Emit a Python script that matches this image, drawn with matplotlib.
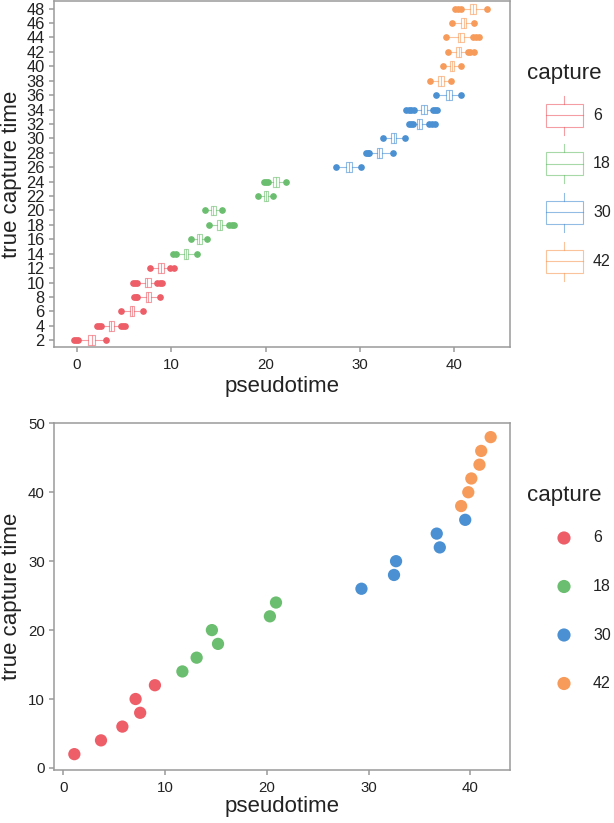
import matplotlib.pyplot as plt
from matplotlib.patches import Rectangle

plt.rcParams['font.family'] = ['Liberation Sans', 'DejaVu Sans']

# ---- data ----
captures = [6, 18, 30, 42]
capture_colors = ['#ED5E68', '#6BBE6F', '#4A90D2', '#F79B5A']

true_time = [2, 4, 6, 8, 10, 12, 14, 16, 18, 20, 22, 24,
             26, 28, 30, 32, 34, 36, 38, 40, 42, 44, 46, 48]
time_capture = [6, 6, 6, 6, 6, 6, 18, 18, 18, 18, 18, 18,
                30, 30, 30, 30, 30, 30, 42, 42, 42, 42, 42, 42]

# boxplot summaries of pseudotime per true capture time
box_med = [1.55, 3.6, 5.8, 7.55, 7.4, 8.9, 11.5, 12.9, 15.1, 14.4, 20.0, 21.1,
           28.8, 32.05, 33.6, 36.3, 36.8, 39.4, 38.6, 39.7, 40.5, 40.65, 41.0, 42.0]
box_q1 = [1.2, 3.4, 5.6, 7.3, 7.2, 8.6, 11.3, 12.7, 14.8, 14.2, 19.8, 20.8,
          28.5, 31.8, 33.3, 36.05, 36.5, 39.1, 38.3, 39.5, 40.2, 40.4, 40.7, 41.7]
box_q3 = [1.95, 3.95, 6.0, 7.8, 7.8, 9.2, 11.8, 13.2, 15.4, 14.7, 20.2, 21.4,
          29.1, 32.3, 33.8, 36.6, 37.05, 39.7, 38.9, 40.0, 40.75, 40.97, 41.25, 42.3]
whisk_lo = [0.3, 2.7, 5.0, 6.6, 6.5, 8.0, 10.6, 12.3, 14.2, 13.8, 19.4, 20.3,
            27.8, 31.0, 32.7, 35.7, 35.9, 38.4, 37.6, 39.0, 39.6, 39.4, 40.0, 40.9]
whisk_hi = [2.8, 4.5, 6.6, 8.6, 8.4, 9.7, 12.4, 13.6, 16.0, 15.2, 20.6, 22.0,
            29.8, 33.2, 34.5, 37.2, 37.6, 40.4, 39.4, 40.5, 41.2, 41.8, 41.9, 43.3]
fliers = [[-0.3, -0.1, 0.05, 3.1], [2.1, 2.3, 2.5, 4.7, 4.9, 5.1], [4.7, 7.0],
          [6.0, 6.2, 6.4, 8.8], [5.9, 6.1, 6.3, 8.5, 8.8, 9.05], [7.7, 9.9, 10.3],
          [10.2, 10.5, 12.7], [12.1, 13.8], [14.0, 16.1, 16.4, 16.6], [13.6, 15.4],
          [19.2, 20.8], [19.8, 20.0, 20.2, 22.2],
          [27.5, 30.1], [30.6, 30.8, 30.9, 33.5], [32.4, 34.8],
          [35.2, 35.4, 35.6, 37.3, 37.6, 37.9], [34.9, 35.2, 35.4, 35.7, 37.7, 38.0, 38.2],
          [38.1, 40.7],
          [37.4, 39.6], [38.8, 40.7], [39.3, 41.4, 41.7, 42.1],
          [39.1, 41.95, 42.3, 42.66], [39.8, 42.1], [40.1, 40.4, 40.7, 43.5]]

# mean pseudotime per true capture time (bottom panel)
pt_x = [1.08, 3.7, 5.8, 7.55, 7.1, 9.0, 11.7, 13.1, 15.2, 14.6, 20.3, 20.9,
        29.3, 32.5, 32.7, 37.0, 36.7, 39.5, 39.1, 39.8, 40.1, 40.9, 41.07, 42.0]

W, H = 614, 823
fig = plt.figure(figsize=(W / 100, H / 100), dpi=100)
fig.patch.set_facecolor('white')

spine_col = '#9a9a9a'
text_col = '#222222'


def px_axes(x0, y0, x1, y1):
    # axes from pixel box (top-left origin)
    return fig.add_axes([x0 / W, 1 - y1 / H, (x1 - x0) / W, (y1 - y0) / H])


def style(ax, ysize):
    for s in ax.spines.values():
        s.set_color(spine_col)
        s.set_linewidth(1.1)
    ax.tick_params(colors=spine_col, labelcolor=text_col, length=3.6, width=1.1)
    ax.tick_params(axis='x', pad=4, labelsize=10.8)
    ax.tick_params(axis='y', pad=3, labelsize=ysize)


col_of = dict(zip(captures, capture_colors))

# ---- top: boxplots ----
ax1 = px_axes(54, 1, 510, 347)
for i in range(len(true_time)):
    c = col_of[time_capture[i]]
    st = dict(med=box_med[i], q1=box_q1[i], q3=box_q3[i],
              whislo=whisk_lo[i], whishi=whisk_hi[i], fliers=fliers[i])
    ax1.bxp([st], positions=[i], widths=0.68, orientation='horizontal',
            showcaps=False,
            boxprops=dict(color=c, alpha=0.6, linewidth=0.8),
            medianprops=dict(color=c, alpha=0.6, linewidth=0.8),
            whiskerprops=dict(color=c, alpha=0.6, linewidth=0.8),
            flierprops=dict(marker='o', markerfacecolor=c, markeredgecolor=c,
                            markersize=3.8, linestyle='none'))
ax1.set_yticks(range(len(true_time)))
ax1.set_yticklabels([str(t) for t in true_time])
ax1.set_ylim(-0.47, 23.53)
ax1.set_xlim(-2.45, 45.9)
ax1.set_xticks([0, 10, 20, 30, 40])
style(ax1, 11.8)
ax1.set_xlabel('pseudotime', fontsize=16, color=text_col)
ax1.set_ylabel('true capture time', fontsize=16, color=text_col)
ax1.xaxis.set_label_coords(0.5, -0.085)
ax1.yaxis.set_label_coords(-0.07, 0.5)

# ---- bottom: scatter ----
ax2 = px_axes(54, 423, 510, 770)
ax2.scatter(pt_x, true_time, c=[col_of[g] for g in time_capture], s=78,
            edgecolors='none', zorder=3)
ax2.set_xlim(-0.92, 43.9)
ax2.set_ylim(-0.3, 50.05)
ax2.set_xticks([0, 10, 20, 30, 40])
ax2.set_yticks([0, 10, 20, 30, 40, 50])
style(ax2, 10.8)
ax2.set_xlabel('pseudotime', fontsize=16, color=text_col)
ax2.set_ylabel('true capture time', fontsize=16, color=text_col)
ax2.xaxis.set_label_coords(0.5, -0.075)
ax2.yaxis.set_label_coords(-0.07, 0.5)

# ---- legends (pixel coordinate axes) ----
leg1 = px_axes(515, 40, 614, 300)
leg1.set_xlim(515, 614)
leg1.set_ylim(300, 40)
leg1.axis('off')
leg1.text(527, 73, 'capture', fontsize=16, color=text_col, va='center', ha='left')
for k, (g, c) in enumerate(zip(captures, capture_colors)):
    yc = 115 + 48.7 * k
    leg1.add_patch(Rectangle((545.5, yc - 11.5), 37, 23, fill=False,
                             edgecolor=c, alpha=0.6, linewidth=0.8))
    leg1.plot([545.5, 582.5], [yc, yc], color=c, alpha=0.6, linewidth=0.8)
    leg1.plot([564, 564], [yc - 19.5, yc - 11.5], color=c, alpha=0.6, linewidth=0.8)
    leg1.plot([564, 564], [yc + 11.5, yc + 19.5], color=c, alpha=0.6, linewidth=0.8)
    leg1.text(593, yc, str(g), fontsize=11.5, color=text_col, va='center', ha='left')

leg2 = px_axes(515, 460, 614, 720)
leg2.set_xlim(515, 614)
leg2.set_ylim(720, 460)
leg2.axis('off')
leg2.text(527, 495, 'capture', fontsize=16, color=text_col, va='center', ha='left')
for k, (g, c) in enumerate(zip(captures, capture_colors)):
    yc = 538 + 48.5 * k
    leg2.scatter([564], [yc], s=90, color=c, edgecolors='none')
    leg2.text(593, yc, str(g), fontsize=11.5, color=text_col, va='center', ha='left')

fig.savefig('out.png', dpi=100, facecolor='white')
